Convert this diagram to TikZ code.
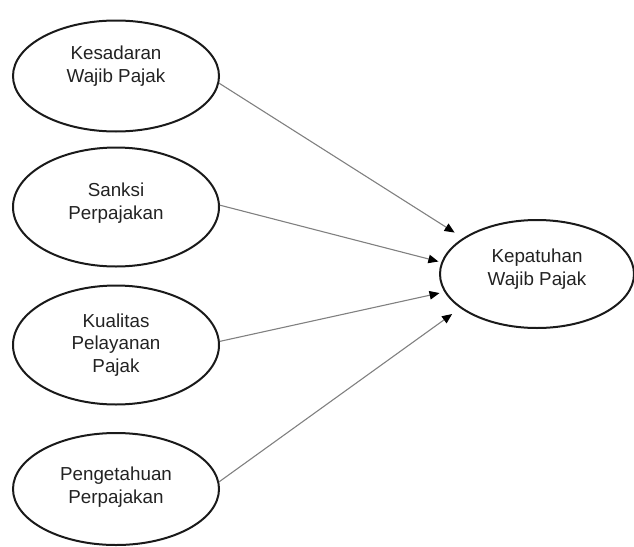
\documentclass[tikz,border=0pt]{standalone}
\usepackage{fontspec}
\setmainfont{Liberation Sans}
\usetikzlibrary{shapes.geometric,arrows.meta}
\definecolor{inkc}{HTML}{1A1A1A}
\definecolor{txtc}{HTML}{222222}
\definecolor{linec}{HTML}{808080}
\begin{document}
\begin{tikzpicture}[x=1pt,y=-1pt,
  oval/.style={ellipse,draw=inkc,line width=2pt,inner sep=0pt,minimum width=206pt},
  txt/.style={align=center,text=txtc,inner sep=0pt,font=\fontsize{18.8}{22.5}\selectfont},
  conn/.style={draw=linec,line width=1.1pt,-{Triangle[length=10pt,width=8.5pt,fill=black,color=black]}}]
\useasboundingbox (0,0) rectangle (634,546);
% sources
\node[oval,minimum height=111pt] (k) at (116,76) {};
\node[txt] (kt) at (116,66) {Kesadaran\\Wajib Pajak};
\node[oval,minimum height=119pt] (s) at (116,207) {};
\node[txt] (st) at (116,203) {Sanksi\\Perpajakan};
\node[oval,minimum height=119pt] (q) at (116,345) {};
\node[txt] (qt) at (116,345) {Kualitas\\Pelayanan\\Pajak};
\node[oval,minimum height=112pt] (p) at (116,489) {};
\node[txt] (pt) at (116,487) {Pengetahuan\\Perpajakan};
% target
\node[oval,minimum width=194pt,minimum height=108pt] (t) at (537,274) {};
\node[txt] (tt) at (537,269) {Kepatuhan\\Wajib Pajak};
% connectors
\draw[conn,shorten >=10pt] (k.-4) -- (t.154.6);
\draw[conn,shorten >=3pt] (s.1) -- (t.173);
\draw[conn,shorten >=5pt] (q.2.7) -- (t.191);
\draw[conn,shorten >=10pt] (p.4) -- (t.204);
\end{tikzpicture}
\end{document}
